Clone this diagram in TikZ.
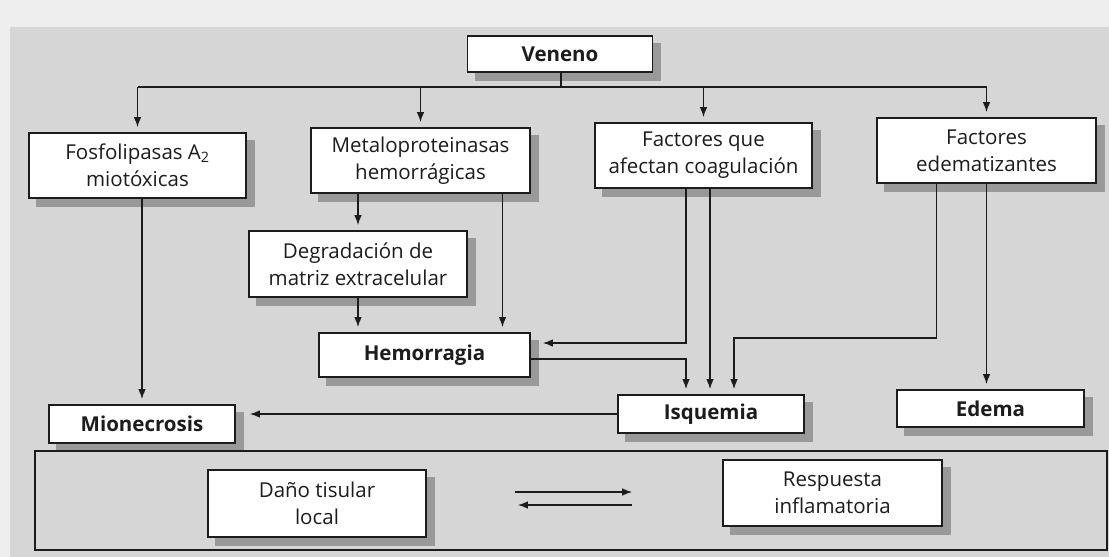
\documentclass[tikz,border=0pt]{standalone}
\usepackage{fontspec}
\setmainfont{Open Sans}
\usetikzlibrary{arrows.meta,calc,backgrounds}
\definecolor{FondoClr}{RGB}{214,214,214}
\definecolor{PapelClr}{RGB}{238,238,238}
\definecolor{LineaClr}{RGB}{28,28,28}

\begin{document}
\begin{tikzpicture}[x=1pt,y=-1pt,
  caja/.style={draw=LineaClr,line width=1.6pt,fill=white,align=center,inner sep=0pt,
    font=\fontsize{20.5}{27}\selectfont,text=LineaClr},
  negrita/.style={caja,font=\fontsize{20.5}{27}\selectfont\bfseries},
  sombra/.style={fill=black!40},
  linea/.style={draw=LineaClr,line width=1.4pt},
  flecha/.style={linea,-{Latex[length=10pt,width=7.5pt]},shorten >=5pt}]

\useasboundingbox (0,0) rectangle (1109,557);

\draw[linea,line width=1.6pt] (35,451) rectangle (1107,550);

\node[negrita,minimum width=185pt,minimum height=36pt] (veneno) at (560,54) {Veneno};

\node[caja,minimum width=217pt,minimum height=65pt] (fosfo) at (137.5,165.5) {Fosfolipasas A\textsubscript{2}\\miotóxicas};
\node[caja,minimum width=219pt,minimum height=65pt] (metalo) at (420.5,160.5) {Metaloproteinasas\\hemorrágicas};
\node[caja,minimum width=217pt,minimum height=65pt] (factque) at (703.5,155.5) {Factores que\\afectan coagulación};
\node[caja,minimum width=219pt,minimum height=65pt] (edem) at (986.5,150.5) {Factores\\edematizantes};

\node[caja,minimum width=218pt,minimum height=66pt] (degrad) at (358,264) {Degradación de\\matriz extracelular};
\node[negrita,minimum width=211pt,minimum height=44pt] (hemo) at (424.5,355) {Hemorragia};

\node[negrita,minimum width=186pt,minimum height=38pt] (mione) at (142,424) {Mionecrosis};
\node[negrita,minimum width=186pt,minimum height=38pt] (isq) at (711,414) {Isquemia};
\node[negrita,minimum width=187pt,minimum height=37pt] (edema) at (990.5,408.5) {Edema};

\node[caja,minimum width=218pt,minimum height=67pt] (dano) at (317,503.5) {Daño tisular\\local};
\node[caja,minimum width=219pt,minimum height=66pt] (resp) at (832.5,493) {Respuesta\\inflamatoria};

\begin{pgfonlayer}{background}
\fill[PapelClr] (0,0) rectangle (1109,557);
\fill[FondoClr] (10,27) rectangle (1109,557);
\foreach \n in {veneno,fosfo,metalo,factque,edem,degrad,hemo,mione,isq,edema,dano,resp}
  \fill[sombra] ([shift={(8,8)}]\n.north west) rectangle ([shift={(8,8)}]\n.south east);
\end{pgfonlayer}

\coordinate (bus) at (561,87);
\coordinate (iA) at ([xshift=-25pt]isq.north);
\coordinate (iB) at ([xshift=-1pt]isq.north);
\coordinate (iC) at ([xshift=23pt]isq.north);

\draw[linea] (bus |- veneno.south) -- (bus);
\draw[linea] (fosfo.north |- bus) -- (edem.north |- bus);
\foreach \n in {fosfo,metalo,factque,edem}
  \draw[flecha] (\n.north |- bus) -- (\n.north);

\draw[flecha] (degrad.north |- metalo.south) -- (degrad.north);
\draw[flecha] (degrad.south) -- (degrad.south |- hemo.north);
\draw[flecha] ([xshift=82pt]metalo.south) -- ([xshift=82pt]metalo.south |- hemo.north);
\draw[flecha] (mione.north |- fosfo.south) -- (mione.north);

\draw[flecha,shorten >=12pt] (iA |- factque.south) |- ([yshift=12pt]hemo.east);
\draw[flecha] ([yshift=-4pt]hemo.east) -| (iA);
\draw[flecha] (iB |- factque.south) -- (iB);
\draw[flecha] ([xshift=-50pt]edem.south) -- ++(0,154) -| (iC);
\draw[flecha] (edem.south) -- (edem.south |- edema.north);
\draw[flecha,shorten >=14pt] (isq.west) -- (isq.west -| mione.east);

\draw[flecha,shorten <=88pt,shorten >=90pt] ([yshift=11.5pt]dano.east) -- ([yshift=11.5pt]dano.east -| resp.west);
\draw[flecha,shorten <=90pt,shorten >=91pt] ([yshift=-1.5pt]dano.east -| resp.west) -- ([yshift=-1.5pt]dano.east);

\end{tikzpicture}
\end{document}
